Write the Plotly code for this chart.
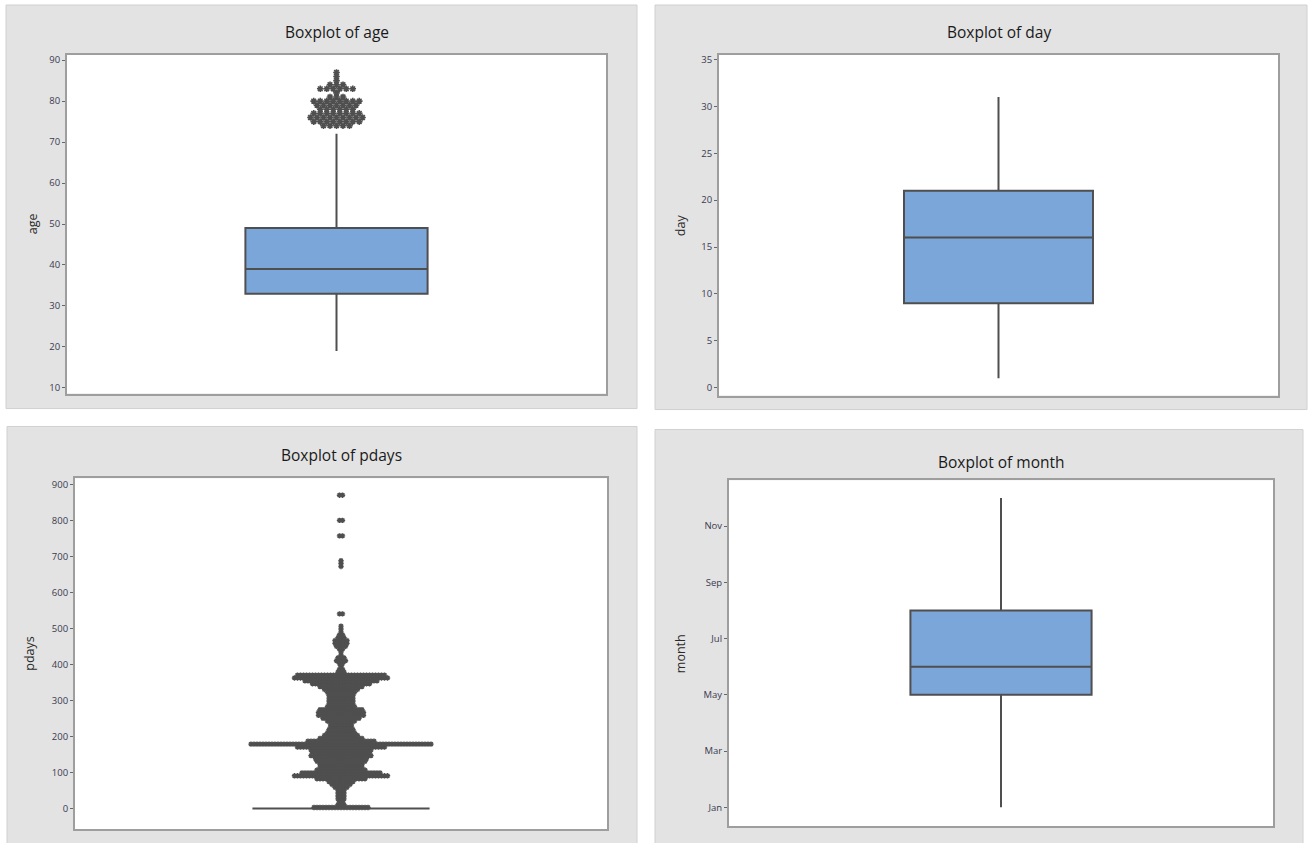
import numpy as np
import plotly.graph_objects as go

W, H = 1308, 843

# ---- data -------------------------------------------------------------
# age: five-number summary and outlying observations (value -> count)
age_stats = dict(q1=33, median=39, q3=49, lowerfence=19, upperfence=72)
age_out_levels = [74, 75, 76, 77, 78, 79, 80, 81, 82, 83, 84, 85, 86, 87]
age_out_counts = [5, 8, 9, 8, 6, 7, 8, 3, 1, 6, 3, 1, 1, 1]

# day: five-number summary
day_stats = dict(q1=9, median=16, q3=21, lowerfence=1, upperfence=31)

# pdays: quartiles collapse at -1, every other value is an outlier
pdays_stats = dict(q1=-1, median=-1, q3=-1, lowerfence=-1, upperfence=-1)
pdays_out_levels = [2, 10, 18, 26, 34, 42, 50, 58, 66, 74, 82, 90, 98, 106,
                    114, 122, 130, 138, 146, 154, 162, 170, 178, 186, 194,
                    202, 210, 218, 226, 234, 242, 250, 258, 266, 274, 282,
                    290, 298, 306, 314, 322, 330, 338, 346, 354, 362, 370,
                    378, 386, 394, 402, 410, 418, 426, 434, 442, 450, 458,
                    466, 474, 482, 490, 498, 506, 540, 672, 680, 688, 757,
                    800, 870]
pdays_out_counts = [19, 3, 2, 3, 3, 3, 3, 5, 7, 9, 17, 32, 27, 17,
                    15, 15, 17, 18, 21, 20, 21, 30, 61, 23, 15,
                    12, 10, 9, 8, 8, 10, 13, 16, 16, 15, 10,
                    9, 9, 9, 9, 10, 12, 15, 20, 25, 32, 30,
                    3, 2, 1, 2, 4, 3, 1, 1, 2, 4, 5,
                    5, 3, 2, 1, 1, 1, 2, 1, 1, 1, 2,
                    2, 2]

# month (1 = Jan ... 12 = Dec): five-number summary
month_stats = dict(q1=5, median=6, q3=8, lowerfence=1, upperfence=12)
month_tickvals = [1, 3, 5, 7, 9, 11]
month_ticktext = ["Jan", "Mar", "May", "Jul", "Sep", "Nov"]

# ---- styling ----------------------------------------------------------
BOX_FILL = "#7ba6d9"
EDGE = "#4f4f4f"
PANEL = "#e3e3e3"
FONT = "Open Sans"

# panel (grey card) and plot-area rectangles in pixels: x0, y0, x1, y1
panels = [(6, 3, 637, 408), (655, 3, 1307, 409),
          (7, 426, 637, 846), (655, 429, 1303, 846)]
plots = [(67, 53, 606, 393), (719, 53, 1278, 395),
         (75, 478, 607, 830), (729, 480, 1273, 827)]
titles = ["Boxplot of age", "Boxplot of day", "Boxplot of pdays", "Boxplot of month"]
title_y = [30, 30, 455, 462]
ytitles = ["age", "day", "pdays", "month"]
ytitle_x = [32, 680, 30, 680]
yranges = [[8.6, 91.3], [-0.85, 35.5], [-58, 917], [0.33, 12.63]]


def px_x(v):
    return v / W


def px_y(v):
    return 1 - v / H


def swarm(levels, counts, step):
    """Lay each level's observations side by side, centred on the box."""
    xs, ys = [], []
    for lv, n in zip(levels, counts):
        xs.extend(((np.arange(n) - (n - 1) / 2) * step).tolist())
        ys.extend([lv] * n)
    return xs, ys


fig = go.Figure()


def add_box(stats, idx, width):
    sfx = "" if idx == 1 else str(idx)
    fig.add_trace(go.Box(
        x=[0], q1=[stats["q1"]], median=[stats["median"]], q3=[stats["q3"]],
        lowerfence=[stats["lowerfence"]], upperfence=[stats["upperfence"]],
        orientation="v", width=width, whiskerwidth=0, boxpoints=False,
        fillcolor=BOX_FILL, line=dict(color=EDGE, width=2),
        xaxis="x" + sfx, yaxis="y" + sfx, hoverinfo="skip", showlegend=False,
    ))


add_box(age_stats, 1, 0.338)
ax, ay = swarm(age_out_levels, age_out_counts, 6.5 / 539)
fig.add_trace(go.Scatter(
    x=ax, y=ay, mode="markers", xaxis="x", yaxis="y", showlegend=False,
    marker=dict(symbol="asterisk-open", size=5.5, color=EDGE,
                line=dict(color=EDGE, width=1.6)),
))

add_box(day_stats, 2, 0.338)

add_box(pdays_stats, 3, 0.333)
pxs, pys = swarm(pdays_out_levels, pdays_out_counts, 3.0 / 532)
fig.add_trace(go.Scatter(
    x=pxs, y=pys, mode="markers", xaxis="x3", yaxis="y3", showlegend=False,
    marker=dict(symbol="asterisk-open", size=4.5, color=EDGE,
                line=dict(color=EDGE, width=1.4)),
))

add_box(month_stats, 4, 0.333)

# ---- layout -----------------------------------------------------------
shapes = []
annotations = []
layout_axes = {}
for i in range(4):
    sfx = "" if i == 0 else str(i + 1)
    x0, y0, x1, y1 = panels[i]
    shapes.append(dict(type="rect", xref="paper", yref="paper", layer="below",
                       x0=px_x(x0), x1=px_x(x1), y0=px_y(y1), y1=px_y(y0),
                       fillcolor=PANEL, line=dict(color="#d0d0d0", width=1)))
    shapes.append(dict(type="rect", xref="x" + sfx + " domain", yref="y" + sfx + " domain",
                       layer="below", x0=0, x1=1, y0=0, y1=1,
                       fillcolor="white", line=dict(width=0)))
    px0, py0, px1, py1 = plots[i]
    layout_axes["xaxis" + sfx] = dict(
        domain=[px_x(px0), px_x(px1)], anchor="y" + sfx, range=[-0.5, 0.5],
        showticklabels=False, ticks="", showgrid=False, zeroline=False,
        showline=True, mirror=True, linecolor="#9e9e9e", linewidth=2,
        fixedrange=True,
    )
    yax = dict(
        domain=[px_y(py1), px_y(py0)], anchor="x" + sfx, range=yranges[i],
        showgrid=False, zeroline=False, showline=True, mirror=True,
        linecolor="#9e9e9e", linewidth=2, ticks="outside", ticklen=3,
        tickwidth=1, tickcolor="#666666",
        tickfont=dict(family=FONT, size=9.5, color="#3a3a50"),
    )
    if i == 3:
        yax.update(tickmode="array", tickvals=month_tickvals, ticktext=month_ticktext)
    else:
        yax.update(dtick=[10, 5, 100][i], tick0=0)
    layout_axes["yaxis" + sfx] = yax

    annotations.append(dict(
        text=titles[i], xref="paper", yref="paper", showarrow=False,
        x=px_x((px0 + px1) / 2), y=px_y(title_y[i]), xanchor="center", yanchor="middle",
        font=dict(family=FONT, size=15.5, color="#1a1a1a"),
    ))
    annotations.append(dict(
        text=ytitles[i], xref="paper", yref="paper", showarrow=False, textangle=-90,
        x=px_x(ytitle_x[i]), y=px_y((py0 + py1) / 2), xanchor="center", yanchor="middle",
        font=dict(family=FONT, size=12.5, color="#2a2a2a"),
    ))

fig.update_layout(
    width=W, height=H, margin=dict(l=0, r=0, t=0, b=0),
    paper_bgcolor="white", plot_bgcolor="rgba(0,0,0,0)",
    shapes=shapes, annotations=annotations, showlegend=False,
    **layout_axes,
)

fig.write_html("out.html", config={"displayModeBar": False})
